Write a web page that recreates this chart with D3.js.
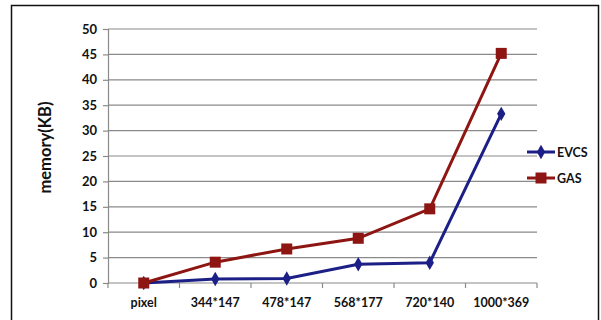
<!DOCTYPE html>
<html>
<head>
<meta charset="utf-8">
<script src="https://cdn.jsdelivr.net/npm/d3@7"></script>
<style>
  html, body { margin: 0; padding: 0; background: #fff; }
  svg { display: block; font-family: Lato, "Open Sans", sans-serif; }
</style>
</head>
<body>
<svg id="chart" width="601" height="320"></svg>
<script>
// Memory usage per image size
const categories = ["pixel", "344*147", "478*147", "568*177", "720*140", "1000*369"];
const evcs = [0, 0.8, 0.9, 3.7, 4.0, 33.3];
const gas = [0, 4.1, 6.7, 8.8, 14.6, 45.2];
const yTicks = [0, 5, 10, 15, 20, 25, 30, 35, 40, 45, 50];
const seriesNames = ["EVCS", "GAS"];

const svg = d3.select("#chart");
const plotLeft = 108, plotRight = 537, plotTop = 29, plotBottom = 283;

// outer frame
svg.append("rect")
  .attr("x", 11.5).attr("y", 5.5)
  .attr("width", 587).attr("height", 330)
  .attr("fill", "#fff").attr("stroke", "#111").attr("stroke-width", 1.5);

const x = d3.scaleBand().domain(categories).range([plotLeft, plotRight]);
const y = d3.scaleLinear().domain([0, 50]).range([plotBottom, plotTop]);

// horizontal gridlines
svg.append("g").selectAll("line").data(yTicks.filter(d => d > 0)).join("line")
  .attr("x1", plotLeft).attr("x2", plotRight)
  .attr("y1", d => y(d)).attr("y2", d => y(d))
  .attr("stroke", "#8a8a8a").attr("stroke-width", 1.2);

// y axis
const yAxis = svg.append("g").attr("transform", `translate(${plotLeft},0)`)
  .call(d3.axisLeft(y).tickValues(yTicks).tickSize(5).tickPadding(6));
yAxis.select(".domain").attr("stroke", "#8a8a8a").attr("stroke-width", 1.2);
yAxis.selectAll(".tick line").attr("stroke", "#8a8a8a").attr("stroke-width", 1.2);
yAxis.selectAll("text").attr("font-size", 13).attr("font-weight", "bold")
  .attr("fill", "#111").attr("font-family", "Lato, sans-serif");

// x axis with ticks at category boundaries
const xAxisG = svg.append("g").attr("transform", `translate(0,${plotBottom})`);
xAxisG.append("line").attr("x1", plotLeft).attr("x2", plotRight)
  .attr("stroke", "#8a8a8a").attr("stroke-width", 1.2);
const bounds = categories.map(c => x(c)).concat([plotRight]);
xAxisG.selectAll("line.tk").data(bounds).join("line").attr("class", "tk")
  .attr("x1", d => d).attr("x2", d => d).attr("y1", 0).attr("y2", 5)
  .attr("stroke", "#8a8a8a").attr("stroke-width", 1.2);
xAxisG.selectAll("text").data(categories).join("text")
  .attr("x", d => x(d) + x.bandwidth() / 2).attr("y", 24)
  .attr("text-anchor", "middle").attr("font-size", 12.5).attr("font-weight", "bold")
  .attr("fill", "#111").text(d => d);

// y axis title
svg.append("text")
  .attr("transform", `translate(51,${(plotTop + plotBottom) / 2 - 8.5}) rotate(-90)`)
  .attr("text-anchor", "middle").attr("font-size", 16.5).attr("font-weight", "bold")
  .attr("fill", "#111").text("memory(KB)");

const cx = (d, i) => x(categories[i]) + x.bandwidth() / 2;
const line = d3.line().x(cx).y(d => y(d));

const colors = { EVCS: "#1c1f86", GAS: "#8e1612" };
const diamond = d3.symbol().type(d3.symbolDiamond).size(60);

// EVCS series
svg.append("path").datum(evcs).attr("d", line)
  .attr("fill", "none").attr("stroke", colors.EVCS).attr("stroke-width", 3);
svg.append("g").selectAll("path").data(evcs).join("path")
  .attr("transform", (d, i) => `translate(${cx(d, i)},${y(d)})`)
  .attr("d", diamond).attr("fill", colors.EVCS);

// GAS series
svg.append("path").datum(gas).attr("d", line)
  .attr("fill", "none").attr("stroke", colors.GAS).attr("stroke-width", 3);
svg.append("g").selectAll("rect").data(gas).join("rect")
  .attr("x", (d, i) => cx(d, i) - 5.5).attr("y", d => y(d) - 5.5)
  .attr("width", 11).attr("height", 11).attr("fill", colors.GAS);

// legend
const legend = svg.append("g");
seriesNames.forEach((name, i) => {
  const ly = 152 + i * 26;
  const g = legend.append("g");
  g.append("line").attr("x1", 527).attr("x2", 555).attr("y1", ly).attr("y2", ly)
    .attr("stroke", colors[name]).attr("stroke-width", 3);
  if (name === "EVCS") {
    g.append("path").attr("transform", `translate(541,${ly})`)
      .attr("d", diamond).attr("fill", colors[name]);
  } else {
    g.append("rect").attr("x", 535.5).attr("y", ly - 5.5)
      .attr("width", 11).attr("height", 11).attr("fill", colors[name]);
  }
  g.append("text").attr("x", 557).attr("y", ly + 4.5)
    .attr("font-size", 12.5).attr("font-weight", "bold").attr("fill", "#111")
    .text(name);
});
</script>
</body>
</html>
